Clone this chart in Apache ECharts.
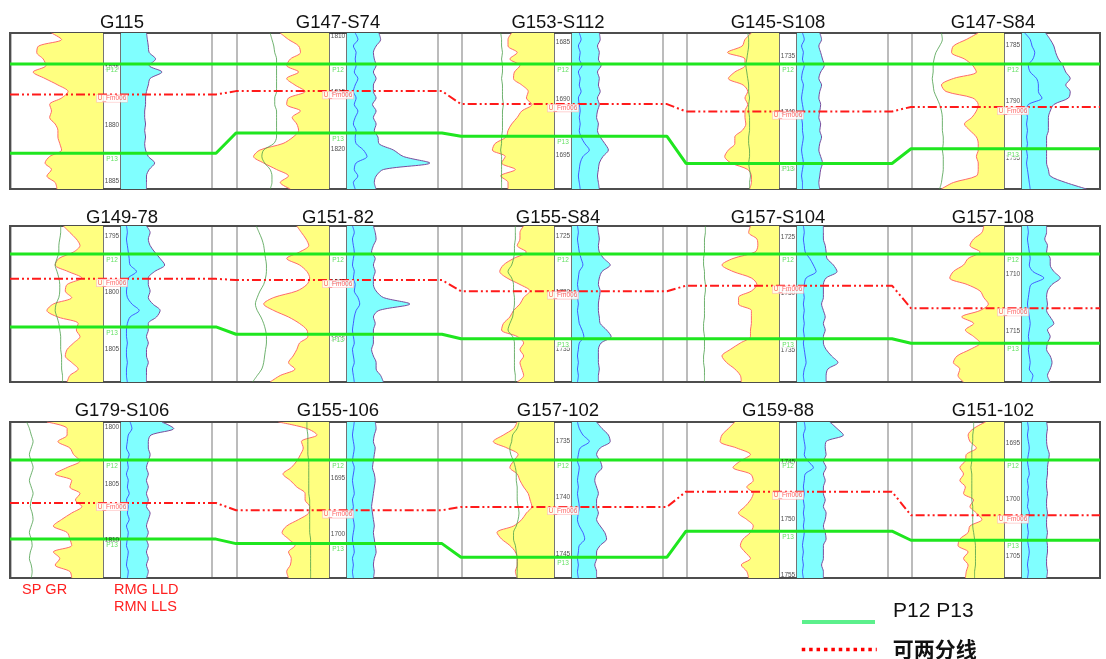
<!DOCTYPE html>
<html>
<head>
<meta charset="utf-8">
<title>P12-P13 well correlation</title>
<script src="https://cdn.jsdelivr.net/npm/echarts@6/dist/echarts.min.js"></script>
<style>
  html, body { margin: 0; padding: 0; background: #ffffff; }
  #chart { width: 1106px; height: 659px; }
</style>
</head>
<body>
<div id="chart"></div>
<script>
// ---------------- well data ----------------
const WELLS = ['G115', 'G147-S74', 'G153-S112', 'G145-S108', 'G147-S84',
               'G149-78', 'G151-82', 'G155-S84', 'G157-S104', 'G157-108',
               'G179-S106', 'G155-106', 'G157-102', 'G159-88', 'G151-102'];

// picked tops (m)
const P12_DEPTH = [1874.6, 1812.5, 1686.9, 1735.7, 1786.7,
                   1796.6, 1797.5, 1726.6, 1726.5, 1708.2,
                   1802.9, 1693.4, 1736.7, 1744.8, 1696.5];
const P13_DEPTH = [1882.5, 1818.6, 1693.3, 1744.5, 1794.2,
                   1803.05, 1804.6, 1734.1, 1734.0, 1716.1,
                   1809.9, 1700.8, 1745.3, 1751.1, 1703.6];
const FM006_DEPTH = [1877.3, 1814.9, 1690.45, 1739.9, 1790.5,
                     1798.8, 1799.8, 1729.9, 1729.3, 1713.0,
                     1806.7, 1697.85, 1740.85, 1747.6, 1701.4];

// depth track annotations (m)
const DEPTH_TICKS = [
  [1875, 1880, 1885], [1810, 1815, 1820], [1685, 1690, 1695], [1735, 1740, 1745], [1785, 1790, 1795],
  [1795, 1800, 1805], [1800, 1805], [1725, 1730, 1735], [1725, 1730, 1735], [1710, 1715],
  [1800, 1805, 1810], [1695, 1700], [1735, 1740, 1745], [1745, 1750, 1755], [1695, 1700, 1705]
];

// log curves, 25 evenly spaced samples over the displayed interval (track units 0-100)
const GR = [
  [44,55,30,28,35,38,24,37,51,62,55,42,44,42,48,51,51,53,55,42,37,44,39,48,50],
  [47,56,67,69,58,54,67,54,63,74,56,54,69,60,65,67,61,50,25,18,29,43,56,47,58],
  [54,50,50,60,52,63,57,56,65,72,70,76,65,60,54,50,48,36,33,47,43,58,42,50,50],
  [70,63,60,44,63,63,52,45,61,66,63,66,63,63,64,60,52,52,45,41,48,66,70,70,68],
  [72,59,45,43,57,66,70,45,32,37,66,72,70,65,57,63,70,72,72,70,72,72,70,45,32],
  [57,64,71,75,68,52,48,62,77,61,59,66,46,39,51,73,71,75,68,61,59,66,73,64,61],
  [65,70,75,78,68,54,68,76,79,76,65,40,29,40,56,68,76,77,68,65,61,56,63,47,36],
  [67,63,63,60,70,56,45,41,49,63,74,67,63,56,52,45,43,60,67,63,67,63,65,67,60],
  [69,67,76,77,74,50,38,50,70,76,70,56,56,70,70,70,69,69,58,47,38,43,52,58,59],
  [78,76,67,63,74,61,56,45,41,60,74,78,83,74,54,67,58,67,74,63,49,45,52,50,56],
  [39,61,61,51,64,68,75,61,48,66,64,75,70,77,66,55,46,61,64,66,46,53,48,64,66],
  [45,76,87,70,72,69,65,59,50,58,65,74,74,79,78,67,54,49,56,63,56,59,58,54,56],
  [60,56,45,34,49,61,56,52,60,63,67,72,74,76,70,65,56,38,43,52,58,60,60,58,60],
  [52,45,38,36,54,69,58,50,69,72,65,72,69,63,56,65,72,69,61,58,63,69,59,65,67],
  [80,67,61,63,70,59,58,52,56,52,58,56,67,63,70,76,63,61,52,50,61,56,61,59,58]
];
const SP = [
  null,
  [36,38,40,41,43,43,43,43,43,43,41,41,43,43,43,43,43,40,29,27,30,36,38,38,36],
  [42,43,43,44,43,44,44,43,44,44,44,45,44,44,44,44,43,43,42,43,43,43,43,43,43],
  [66,67,67,66,65,64,65,66,67,67,68,67,67,68,68,68,67,67,68,68,67,68,69,68,68],
  [32,33,30,26,24,23,23,22,23,24,27,30,32,33,33,33,34,34,33,34,34,34,33,32,30],
  [54,54,53,52,52,50,48,50,52,53,53,52,49,48,50,52,53,54,54,54,55,55,55,56,56],
  [21,24,27,29,30,31,32,32,31,29,25,22,20,22,26,29,31,32,32,31,30,29,27,22,17],
  [58,58,58,57,57,56,54,50,54,56,56,57,57,56,55,52,50,55,57,57,57,57,57,58,58],
  [20,20,19,19,19,18,18,19,19,20,20,19,19,19,19,18,18,19,19,19,18,18,19,19,19],
  null,
  [17,20,22,24,22,20,22,24,22,20,22,24,22,21,23,24,22,20,22,23,21,20,22,23,22],
  [76,76,77,77,77,77,78,78,78,78,78,78,79,79,79,79,79,79,80,80,80,80,80,80,80],
  [62,60,55,54,52,53,56,58,59,59,60,60,60,61,62,61,59,56,56,58,59,60,60,60,60],
  null,
  [67,67,66,66,65,65,65,64,65,65,65,65,65,66,66,66,66,67,68,69,69,69,69,68,68]
];
const LLD = [
  [28,29,30,31,38,31,45,32,30,28,27,27,26,26,27,26,27,26,27,30,37,31,28,28,28],
  [35,37,32,29,30,32,29,32,29,29,32,28,32,29,32,30,34,35,51,62,91,40,32,30,32],
  [30,31,28,30,29,32,28,30,29,31,28,30,28,27,29,28,31,36,40,34,30,29,28,29,30],
  [25,27,24,26,28,30,26,24,27,25,24,26,25,24,26,25,27,25,24,26,28,26,25,24,25],
  [26,31,35,37,40,45,48,53,48,53,51,35,31,29,29,29,27,27,27,27,27,29,31,48,71],
  [28,32,30,32,37,43,48,37,30,30,32,30,35,43,39,30,30,28,30,28,28,30,28,28,28],
  [29,31,32,29,27,31,29,31,29,29,32,40,69,35,29,31,29,29,29,27,29,32,32,37,40],
  [28,29,30,29,30,35,42,33,30,29,31,30,29,29,30,31,38,43,32,29,29,29,30,29,29],
  [29,29,29,31,32,33,40,44,32,29,29,29,27,29,31,29,31,29,29,32,38,45,34,32,32],
  [27,27,25,28,27,31,31,35,42,33,28,27,28,27,31,35,28,31,28,27,31,33,31,28,31],
  [45,58,33,30,30,32,30,28,30,28,30,28,30,28,32,30,28,30,28,30,28,30,28,30,28],
  [31,32,30,29,31,30,29,28,30,31,30,29,28,27,28,29,30,29,30,31,32,30,29,30,29],
  [27,33,40,42,31,27,31,33,27,25,27,29,27,27,29,27,31,36,38,31,27,27,25,27,27],
  [36,44,51,32,31,32,29,32,29,31,29,29,31,29,32,31,29,31,32,29,29,29,27,29,29],
  [27,28,27,27,28,30,29,28,28,27,27,28,27,27,28,27,27,28,27,28,28,27,27,28,27]
];
const RMG = [
  null,
  [9,12,7,10,9,10,8,12,9,7,10,8,12,9,7,10,9,10,18,22,10,8,12,7,9],
  [8,10,7,9,8,11,7,9,8,10,7,8,9,8,9,8,10,14,19,12,9,8,7,8,9],
  [6,8,5,7,6,8,6,5,7,6,5,6,7,5,6,6,7,6,5,6,7,6,5,6,6],
  [3,9,11,14,12,7,9,16,18,18,22,7,5,6,5,6,5,6,5,6,5,6,7,8,9],
  [6,7,6,7,8,9,10,17,8,7,6,7,12,20,10,7,6,6,7,6,6,7,6,6,7],
  [6,8,6,7,8,7,6,8,7,9,8,12,14,10,8,7,6,7,8,6,7,8,6,7,8],
  [6,7,6,7,8,10,12,8,7,6,7,6,7,6,7,8,11,13,8,7,6,7,6,7,6],
  [7,8,7,8,9,14,18,21,10,8,7,8,7,8,7,8,7,8,7,8,9,10,8,7,8],
  [6,7,6,7,8,9,8,12,24,10,8,7,6,7,8,9,8,7,8,7,8,9,8,12,10],
  [10,12,8,7,6,9,7,8,6,8,7,9,6,8,7,9,6,8,7,6,8,7,6,8,7],
  [8,7,6,7,8,7,6,8,7,6,7,8,6,7,6,7,8,7,6,7,8,6,7,6,7],
  [6,8,12,19,9,7,6,8,7,6,7,6,7,8,7,6,8,12,14,8,7,6,7,6,7],
  [8,9,7,8,9,8,12,18,9,8,7,8,7,8,7,8,7,8,7,6,7,6,7,6,7],
  [6,7,6,7,8,7,6,7,8,6,7,6,7,6,8,7,6,7,6,7,8,7,6,7,6]
];

// ---------------- layout ----------------
const FRAME_LEFT = 10, FRAME_RIGHT = 1100;
const ROW_TOP = [33, 226, 422];
const ROW_H = 156;
const DATUM_OFFSET = [31, 28, 38];      // P12 datum below frame top, px
const PX_PER_M = 11.3;
const COL_LEFT = [11, 237, 462, 687, 912];
const TITLE_X = [122, 338, 558, 778, 993];
const TITLE_Y = [23, 218, 411];
const GR_W = 92, DEPTH_W = 18, RES_W = 91, PANEL_W = 201;
const FONT = 'Liberation Sans, Arial, sans-serif';

const grid = [], xAxis = [], yAxis = [], series = [], graphic = [];
const SAMPLE_IDX = GR[0].map((_, i) => i);

function addGrid(g) { grid.push(g); return grid.length - 1; }
function addAxes(gi, xa, ya) {
  xAxis.push(Object.assign({ gridIndex: gi, show: false }, xa));
  yAxis.push(Object.assign({ gridIndex: gi, show: false }, ya));
  return [xAxis.length - 1, yAxis.length - 1];
}
const catAxis = () => ({ type: 'category', data: SAMPLE_IDX, boundaryGap: false, inverse: true });

WELLS.forEach((well, k) => {
  const r = Math.floor(k / 5), c = k % 5;
  const L = COL_LEFT[c], top = ROW_TOP[r];
  const topDepth = P12_DEPTH[k] - DATUM_OFFSET[r] / PX_PER_M;
  const botDepth = topDepth + ROW_H / PX_PER_M;

  // panel outline
  addGrid({ left: L, top, width: Math.min(PANEL_W, FRAME_RIGHT - L), height: ROW_H,
            show: true, borderColor: '#a6a6a6', borderWidth: 1.5, z: 3 });

  // GR / SP track
  const gGR = addGrid({ left: L, top, width: GR_W, height: ROW_H });
  const [xg, yg] = addAxes(gGR, { type: 'value', min: 0, max: 100 }, catAxis());
  series.push({
    type: 'line', name: 'GR', xAxisIndex: xg, yAxisIndex: yg, data: GR[k],
    symbol: 'none', smooth: 0.3, silent: true,
    lineStyle: { color: '#ff6b6b', width: 1 },
    areaStyle: { color: '#ffff80', opacity: 1, origin: 'end' }
  });
  if (SP[k]) {
    series.push({
      type: 'line', name: 'SP', xAxisIndex: xg, yAxisIndex: yg, data: SP[k],
      symbol: 'none', smooth: 0.3, silent: true,
      lineStyle: { color: '#4a9e4a', width: 0.8 }
    });
  }

  // depth track
  const gD = addGrid({ left: L + GR_W, top, width: DEPTH_W, height: ROW_H,
                       show: true, borderColor: '#1a1a1a', borderWidth: 1.2, z: 3 });
  const [xd, yd] = addAxes(gD, { type: 'value', min: -1, max: 1 },
                           { type: 'value', min: topDepth, max: botDepth, inverse: true });
  series.push({
    type: 'scatter', xAxisIndex: xd, yAxisIndex: yd, silent: true, z: 5,
    data: DEPTH_TICKS[k].map(d => [0, d]),
    symbolSize: 1, itemStyle: { color: 'rgba(0,0,0,0)' },
    label: { show: true, position: 'inside', formatter: p => String(p.value[1]),
             fontSize: 6.5, color: '#222', fontFamily: FONT }
  });
  series.push({
    type: 'scatter', xAxisIndex: xd, yAxisIndex: yd, silent: true, z: 6,
    data: [{ name: 'P12', value: [0, P12_DEPTH[k]] }, { name: 'P13', value: [0, P13_DEPTH[k]] }],
    symbolSize: 1, itemStyle: { color: 'rgba(0,0,0,0)' },
    label: { show: true, position: 'bottom', distance: 2, formatter: '{b}',
             fontSize: 6.5, color: '#3cd83c', fontFamily: FONT,
             backgroundColor: '#ffffff', padding: [0, 1] }
  });
  series.push({
    type: 'scatter', xAxisIndex: xd, yAxisIndex: yd, silent: true, z: 6,
    data: [{ name: 'U_Fm006', value: [0, FM006_DEPTH[k]] }],
    symbolSize: 1, itemStyle: { color: 'rgba(0,0,0,0)' },
    label: { show: true, position: 'bottom', distance: 0, formatter: '{b}',
             fontSize: 6.5, color: '#ff3a3a', fontFamily: FONT,
             backgroundColor: '#ffffff', borderColor: '#ffb4b4', borderWidth: 0.6, padding: [0, 1] }
  });

  // resistivity track
  const rx = L + GR_W + DEPTH_W;
  const rw = Math.min(RES_W, FRAME_RIGHT - rx);
  const gR = addGrid({ left: rx, top, width: rw, height: ROW_H });
  const [xr, yr] = addAxes(gR, { type: 'value', min: 0, max: 100 * rw / RES_W }, catAxis());
  series.push({
    type: 'line', name: 'LLD', xAxisIndex: xr, yAxisIndex: yr, data: LLD[k],
    symbol: 'none', smooth: 0.3, silent: true,
    lineStyle: { color: '#7a4b9c', width: 1 },
    areaStyle: { color: '#80ffff', opacity: 1, origin: 'start' }
  });
  if (RMG[k]) {
    series.push({
      type: 'line', name: 'RMG', xAxisIndex: xr, yAxisIndex: yr, data: RMG[k],
      symbol: 'none', smooth: 0.3, silent: true,
      lineStyle: { color: '#3434ff', width: 0.8 }
    });
  }

  graphic.push({
    type: 'text', x: TITLE_X[c], y: TITLE_Y[r], silent: true,
    style: { text: well, fill: '#111', fontSize: 18.5, fontFamily: FONT,
             textAlign: 'center', textVerticalAlign: 'middle' }
  });
});

// row frames and correlation lines
const MARKERS = [
  { depths: P12_DEPTH, name: 'P12 P13', style: { color: '#1fe61f', width: 3 } },
  { depths: P13_DEPTH, name: 'P12 P13', style: { color: '#1fe61f', width: 3 } },
  { depths: FM006_DEPTH, name: '可两分线', style: { color: '#ff1a1a', width: 2, type: [9, 3, 2, 3, 2, 3] } }
];
ROW_TOP.forEach((top, r) => {
  const W = FRAME_RIGHT - FRAME_LEFT;
  const g = addGrid({ left: FRAME_LEFT, top, width: W, height: ROW_H,
                      show: true, borderColor: '#4d4d4d', borderWidth: 2, z: 3 });
  const [xi, yi] = addAxes(g, { type: 'value', min: 0, max: W },
    { type: 'value', min: -DATUM_OFFSET[r] / PX_PER_M, max: (ROW_H - DATUM_OFFSET[r]) / PX_PER_M, inverse: true });
  MARKERS.forEach(m => {
    const pts = [];
    for (let c = 0; c < 5; c++) {
      const k = r * 5 + c;
      const rel = m.depths[k] - P12_DEPTH[k];
      const x0 = c === 0 ? 0 : COL_LEFT[c] - FRAME_LEFT - 1;
      const x1 = c === 4 ? W : COL_LEFT[c] - FRAME_LEFT + PANEL_W + 4;
      pts.push([x0, rel], [x1, rel]);
    }
    series.push({
      type: 'line', name: m.name, xAxisIndex: xi, yAxisIndex: yi, data: pts,
      symbol: 'none', silent: true, z: 4, lineStyle: m.style
    });
  });
});

// curve captions
[['SP GR', 22, 590], ['RMG LLD', 114, 590], ['RMN LLS', 114, 607]].forEach(([t, x, y]) => {
  graphic.push({
    type: 'text', x, y, silent: true,
    style: { text: t, fill: '#ff2020', fontSize: 14.5, fontFamily: FONT,
             textAlign: 'left', textVerticalAlign: 'middle' }
  });
});
// key caption sits above its swatch
graphic.push({
  type: 'text', x: 893, y: 611, silent: true,
  style: { text: 'P12 P13', fill: '#111', fontSize: 21, fontFamily: FONT,
           textAlign: 'left', textVerticalAlign: 'middle' }
});

const hiddenMarker = { color: 'rgba(0,0,0,0)', borderWidth: 0, opacity: 0 };
const option = {
  animation: false,
  backgroundColor: '#ffffff',
  grid, xAxis, yAxis, series, graphic,
  legend: [
    {
      data: [{ name: 'P12 P13', lineStyle: { color: '#5cf08c', width: 4 }, itemStyle: hiddenMarker }],
      formatter: () => '',
      left: 800, top: 615, padding: 0, itemWidth: 73, itemHeight: 14, selectedMode: false,
      textStyle: { fontSize: 12 }
    },
    {
      data: [{ name: '可两分线', lineStyle: { color: '#ff0000', width: 3.5, type: [3.5, 3.9] }, itemStyle: hiddenMarker }],
      left: 800, top: 639, padding: 0, itemWidth: 75, itemHeight: 14, selectedMode: false,
      textStyle: { fontSize: 21, fontWeight: 'bold', color: '#111',
                   fontFamily: 'Noto Sans CJK SC, sans-serif', padding: [0, 0, 0, 11] }
    }
  ]
};

const chart = echarts.init(document.getElementById('chart'));
chart.setOption(option);
</script>
</body>
</html>
